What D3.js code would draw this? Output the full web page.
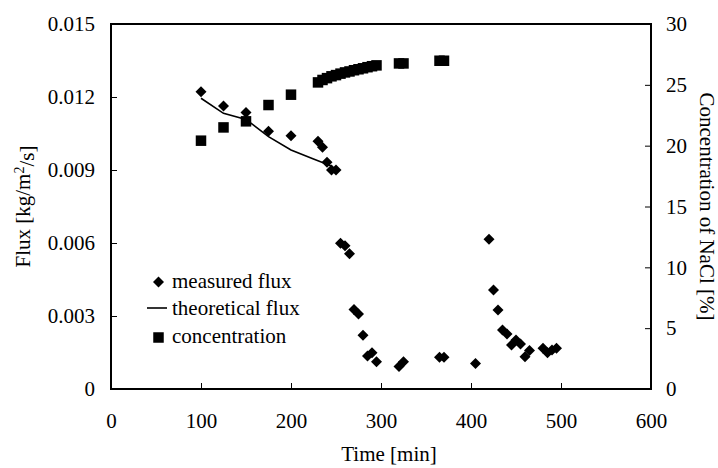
<!DOCTYPE html>
<html>
<head>
<meta charset="utf-8">
<script src="https://cdn.jsdelivr.net/npm/d3@7"></script>
<style>
  body { margin: 0; background: #fff; }
</style>
</head>
<body>
<div id="chart"></div>
<script>
// measured flux (left axis)
var measuredTime = [100, 125, 150, 175, 200, 230, 235, 240, 245, 250, 255, 260, 265, 270, 275, 280, 285, 290, 295,
                    320, 325, 365, 370, 405, 420, 425, 430, 435, 440, 445, 450, 455, 460, 465, 480, 485, 490, 495];
var measuredFlux = [0.01222, 0.01163, 0.01136, 0.01059, 0.01041, 0.01018, 0.00993, 0.00932, 0.0090, 0.0090,
                    0.00599, 0.00589, 0.00556, 0.00327, 0.00308, 0.00221, 0.00136, 0.00149, 0.00112,
                    0.00092, 0.00112, 0.0013, 0.0013, 0.00105, 0.00615, 0.00407, 0.00325, 0.00242, 0.00226,
                    0.00181, 0.00201, 0.00185, 0.00133, 0.00158, 0.00167, 0.00149, 0.0016, 0.00167];

// theoretical flux (left axis)
var theoryTime = [100, 125, 150, 175, 200, 225, 245];
var theoryFlux = [0.01195, 0.01133, 0.01108, 0.01037, 0.00982, 0.00945, 0.00916];

// concentration (right axis)
var concTime = [100, 125, 150, 175, 200, 230, 235, 240, 245, 250, 255, 260, 265, 270, 275, 280, 285, 290, 295,
                320, 325, 365, 370];
var concValue = [20.41, 21.5, 22.0, 23.34, 24.19, 25.2, 25.4, 25.55, 25.7, 25.8, 25.92, 26.02, 26.1, 26.2,
                 26.28, 26.36, 26.45, 26.53, 26.6, 26.76, 26.76, 26.98, 26.98];

var xTicks = [0, 100, 200, 300, 400, 500, 600];
var fluxTicks = [0, 0.003, 0.006, 0.009, 0.012, 0.015];
var concTicks = [0, 5, 10, 15, 20, 25, 30];

var legendItems = ["measured flux", "theoretical flux", "concentration"];

var FONT = "'Liberation Serif', 'Times New Roman', 'DejaVu Serif', serif";

var W = 718, H = 468,
    margin = {top: 24, right: 67, bottom: 79, left: 111},
    width = W - margin.left - margin.right,
    height = H - margin.top - margin.bottom;

var svg = d3.select("#chart").append("svg")
    .attr("width", W)
    .attr("height", H)
    .style("font-family", FONT);

svg.append("rect").attr("width", W).attr("height", H).attr("fill", "#fff");

var x = d3.scaleLinear().domain([0, 600]).range([0, width]);
var yFlux = d3.scaleLinear().domain([0, 0.015]).range([height, 0]);
var yConc = d3.scaleLinear().domain([0, 30]).range([height, 0]);

var g = svg.append("g")
    .attr("transform", "translate(" + margin.left + "," + margin.top + ")");

var fmtFlux = function(d) { return d === 0 ? "0" : d3.format(".3f")(d); };

var axL = g.append("g")
    .call(d3.axisLeft(yFlux).tickValues(fluxTicks).tickFormat(fmtFlux).tickSize(-6).tickPadding(16));
var axR = g.append("g")
    .attr("transform", "translate(" + width + ",0)")
    .call(d3.axisRight(yConc).tickValues(concTicks).tickSize(-6).tickPadding(15));
var axB = g.append("g")
    .attr("transform", "translate(0," + height + ")")
    .call(d3.axisBottom(x).tickValues(xTicks).tickFormat(d3.format("d")).tickSize(-6).tickPadding(24));

[axL, axR, axB].forEach(function(a) {
  a.attr("font-family", null).attr("font-size", null);
  a.select(".domain").remove();
  a.selectAll(".tick line").attr("stroke", "#000").attr("stroke-width", 1);
  a.selectAll(".tick text")
      .style("font-family", FONT)
      .style("font-size", "21px")
      .attr("fill", "#000");
});
// the end ticks sit on the frame, hide them
axB.selectAll(".tick line").filter(function(d) { return d === 0 || d === 600; }).remove();
axL.selectAll(".tick line").filter(function(d) { return d === 0 || d === 0.015; }).remove();
axR.selectAll(".tick line").filter(function(d) { return d === 0 || d === 30; }).remove();

g.append("rect")
    .attr("width", width)
    .attr("height", height)
    .attr("fill", "none")
    .attr("stroke", "#000")
    .attr("stroke-width", 2);

// concentration squares
var sq = 10.5;
g.append("g").selectAll("rect")
    .data(concTime)
  .enter().append("rect")
    .attr("x", function(d) { return x(d) - sq / 2; })
    .attr("y", function(d, i) { return yConc(concValue[i]) - sq / 2; })
    .attr("width", sq)
    .attr("height", sq)
    .attr("fill", "#000");

// theoretical line
var line = d3.line()
    .x(function(d) { return x(d); })
    .y(function(d, i) { return yFlux(theoryFlux[i]); });

g.append("path")
    .datum(theoryTime)
    .attr("d", line)
    .attr("fill", "none")
    .attr("stroke", "#000")
    .attr("stroke-width", 1.6);

// measured flux diamonds
var diamond = "M0,-5.5L5.5,0L0,5.5L-5.5,0Z";
g.append("g").selectAll("path")
    .data(measuredTime)
  .enter().append("path")
    .attr("d", diamond)
    .attr("transform", function(d, i) { return "translate(" + x(d) + "," + yFlux(measuredFlux[i]) + ")"; })
    .attr("fill", "#000");

// legend
var leg = svg.append("g");
leg.append("path").attr("d", diamond).attr("transform", "translate(158.5,282)").attr("fill", "#000");
leg.append("line").attr("x1", 147).attr("x2", 167).attr("y1", 308).attr("y2", 308)
    .attr("stroke", "#000").attr("stroke-width", 1.6);
leg.append("rect").attr("x", 158.5 - sq / 2).attr("y", 337.5 - sq / 2).attr("width", sq).attr("height", sq).attr("fill", "#000");
leg.selectAll("text")
    .data(legendItems)
  .enter().append("text")
    .attr("x", 172)
    .attr("y", function(d, i) { return 287.5 + i * 27.8; })
    .style("font-family", FONT)
    .style("font-size", "21px")
    .text(function(d) { return d; });

// axis titles
svg.append("text")
    .attr("x", margin.left + width / 2 + 8)
    .attr("y", 461)
    .attr("text-anchor", "middle")
    .style("font-family", FONT)
    .style("font-size", "21px")
    .text("Time [min]");

var tl = svg.append("text")
    .attr("transform", "translate(23," + (margin.top + height / 2) + ") rotate(-90)")
    .attr("text-anchor", "middle")
    .attr("dy", "0.35em")
    .style("font-family", FONT)
    .style("font-size", "21px");
tl.append("tspan").text("Flux [kg/m");
tl.append("tspan").attr("dy", "-0.45em").style("font-size", "14px").text("2");
tl.append("tspan").attr("dy", "0.45em").text("/s]");

svg.append("text")
    .attr("transform", "translate(707," + (margin.top + height / 2) + ") rotate(90)")
    .attr("text-anchor", "middle")
    .attr("dy", "0.35em")
    .style("font-family", FONT)
    .style("font-size", "21px")
    .text("Concentration of NaCl [%]");
</script>
</body>
</html>
